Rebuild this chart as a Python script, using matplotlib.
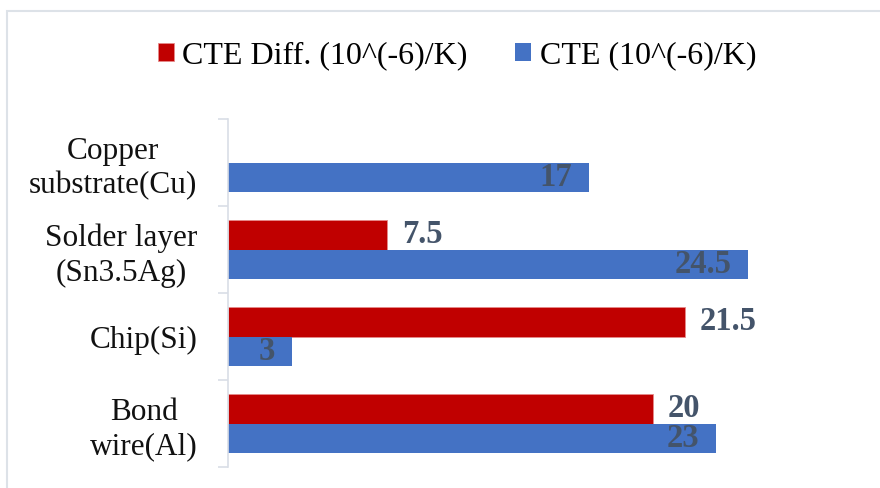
import numpy as np
import matplotlib
matplotlib.use("Agg")
import matplotlib.pyplot as plt
from matplotlib.patches import Rectangle

plt.rcParams['font.family'] = ['Liberation Serif', 'DejaVu Serif']

categories = ["Copper\nsubstrate(Cu)", "Solder layer\n(Sn3.5Ag)", "Chip(Si)", "Bond\nwire(Al)"]
cte_diff = [np.nan, 7.5, 21.5, 20]
cte = [17, 24.5, 3, 23]
series_names = ["CTE Diff. (10^(-6)/K)", "CTE (10^(-6)/K)"]

red = "#C00000"
blue = "#4472C4"
label_color = "#44546A"
axis_gray = "#D9DEE6"

W, H = 880, 488
fig = plt.figure(figsize=(W / 100, H / 100), dpi=100)
ax = fig.add_axes([228 / W, (H - 467) / H, (865 - 228) / W, (467 - 119) / H])

y = np.arange(len(categories))
bh = 0.34
bars_red = ax.barh(y - bh / 2, cte_diff, height=bh, color=red, edgecolor="#E58A8A",
                   linewidth=0.6, label=series_names[0])
bars_blue = ax.barh(y + bh / 2, cte, height=bh, color=blue, label=series_names[1])

ax.set_xlim(0, 30)
ax.set_ylim(len(categories) - 0.5, -0.5)

fs = 22.5
vfs = 23.5
# value labels
for b, v in zip(bars_red, cte_diff):
    if np.isnan(v):
        continue
    ax.annotate(f"{v:g}", (v, b.get_y() + b.get_height() / 2), xytext=(15, 0),
                textcoords="offset pixels", ha="left", va="center",
                fontsize=vfs, fontweight="bold", color=label_color)
for b, v in zip(bars_blue, cte):
    ax.annotate(f"{v:g}", (v, b.get_y() + b.get_height() / 2), xytext=(-17, 0),
                textcoords="offset pixels", ha="right", va="center",
                fontsize=vfs, fontweight="bold", color=label_color)

# axes styling
for s in ["top", "right", "bottom"]:
    ax.spines[s].set_visible(False)
ax.spines["left"].set_color(axis_gray)
ax.spines["left"].set_linewidth(1.2)
ax.set_xticks([])
ax.set_yticks(np.arange(len(categories) + 1) - 0.5)
ax.set_yticklabels([])
ax.tick_params(axis="y", which="major", length=7.2, width=1.2, color=axis_gray)
ax.set_yticks(y, minor=True)
ax.set_yticklabels(categories, minor=True, fontsize=fs, color="#111111",
                   multialignment="center", linespacing=1.25)
ax.tick_params(axis="y", which="minor", length=0, pad=22)

fig.legend(loc="center", bbox_to_anchor=(457 / W, 1 - 56 / H), ncol=2, frameon=False,
           fontsize=23, handlelength=0.5, handleheight=0.5, handletextpad=0.26,
           columnspacing=1.5, borderpad=0)

# outer border (chart area frame)
fig.patches.append(Rectangle((7 / W, -0.1), 2, 1 - 11 / H + 0.1, transform=fig.transFigure,
                             fill=False, edgecolor="#DDE2E8", linewidth=1.5))

fig.savefig("out.png", dpi=100)
